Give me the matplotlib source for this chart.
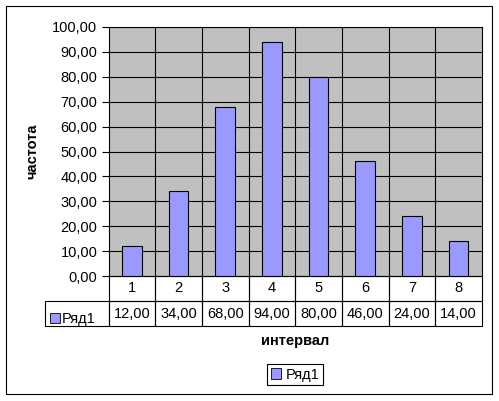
import matplotlib.pyplot as plt
from matplotlib.patches import Rectangle
import matplotlib.transforms as mtransforms

plt.rcParams['font.family'] = ['Liberation Sans', 'DejaVu Sans']

categories = ['1', '2', '3', '4', '5', '6', '7', '8']
values = [12, 34, 68, 94, 80, 46, 24, 14]
series_name = 'Ряд1'
x_title = 'интервал'
y_title = 'частота'

W, H = 499, 401
fig = plt.figure(figsize=(W / 100, H / 100), dpi=100)
ax = fig.add_axes([108.5 / W, 1 - 276 / H, (482 - 108.5) / W, (276 - 27) / H])

bar_color = '#9999FF'
pos = list(range(len(categories)))
ax.bar(pos, values, width=0.42, color=bar_color, edgecolor='black', linewidth=0.8, zorder=3)

ax.set_facecolor('#C0C0C0')
ax.set_xlim(-0.5, len(categories) - 0.5)
ax.set_ylim(0, 100)
ax.set_yticks(range(0, 101, 10))
ax.set_yticklabels([f'{v},00' for v in range(0, 101, 10)], fontsize=10.5)
ax.tick_params(axis='y', direction='out', length=5, width=0.8, pad=3)
ax.set_xticks([])
for y in range(10, 101, 10):
    ax.axhline(y, color='black', lw=0.8, zorder=1)
for xb in [p + 0.5 for p in pos[:-1]]:
    ax.axvline(xb, color='black', lw=0.8, zorder=1)
for s in ax.spines.values():
    s.set_linewidth(0.8)

# data table under the axes
trans = mtransforms.blended_transform_factory(ax.transData, ax.transAxes)
rh = 25 / 249.0
for i, (c, v) in enumerate(zip(categories, values)):
    for r, txt in enumerate([c, f'{v},00']):
        y0 = -rh * (r + 1)
        ax.add_patch(Rectangle((i - 0.5, y0), 1, rh, transform=trans, fill=False,
                               edgecolor='black', lw=0.8, clip_on=False))
        ax.text(i, y0 + rh / 2, txt, transform=trans, ha='center', va='center',
                fontsize=10.5, clip_on=False)

lab_w = (108.5 - 45) / ((482 - 108.5) / 8)
ax.add_patch(Rectangle((-0.5 - lab_w, -2 * rh), lab_w, rh, transform=trans, fill=False,
                       edgecolor='black', lw=0.8, clip_on=False))
# legend key inside the table row label
fig.patches.append(Rectangle((50 / W, 1 - 323 / H), 10 / W, 10 / H, transform=fig.transFigure,
                             facecolor=bar_color, edgecolor='black', lw=0.6))
fig.text(62 / W, 1 - 319 / H, series_name, ha='left', va='center', fontsize=10.5)

ax.text(0.5, -0.262, x_title, transform=ax.transAxes, ha='center', va='center',
        fontsize=10.5, fontweight='bold')
ax.text(-0.205, 0.5, y_title, transform=ax.transAxes, ha='center', va='center',
        rotation=90, fontsize=10.5, fontweight='bold')

leg = fig.legend([Rectangle((0, 0), 1, 1, facecolor=bar_color, edgecolor='black', lw=0.6)],
                 [series_name], loc='center', bbox_to_anchor=(295 / W, 1 - 374.5 / H),
                 fancybox=False, edgecolor='black', framealpha=1, fontsize=10.5,
                 handlelength=0.7, handleheight=0.7, handletextpad=0.3,
                 borderpad=0.25, borderaxespad=0)
leg.get_frame().set_linewidth(0.8)

fig.patches.append(Rectangle((6 / W, 1 - 394 / H), 486 / W, 388 / H, transform=fig.transFigure,
                             fill=False, edgecolor='black', lw=0.8))

fig.savefig('out.png', dpi=100)
